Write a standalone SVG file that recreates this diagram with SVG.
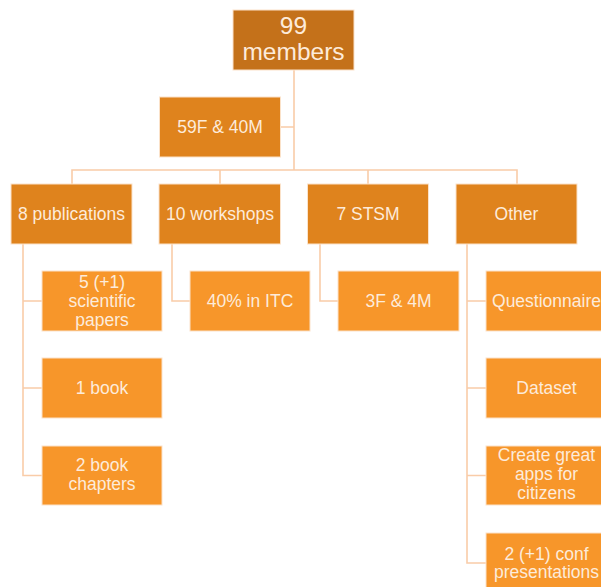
<svg xmlns="http://www.w3.org/2000/svg" width="601" height="587" viewBox="0 0 601 587">
<style>
rect{stroke:#FBE2C9;stroke-width:1}
.l0{fill:#C4711A}
.l1{fill:#DF831D}
.l2{fill:#F7962A}
text{font-family:"Liberation Sans",Arial,sans-serif;font-size:17.5px;fill:#FDEBDA;text-anchor:middle}
.big{font-size:24.5px}
#connectors path{fill:none;stroke:#F9CCA8;stroke-width:1.6}
</style>
<rect x="0" y="0" width="601" height="587" fill="#FFFFFF" style="stroke:none"/>
<g id="connectors">
<path d="M294 70V170M294 127H280.5"/>
<path d="M72 184V170H517V184M220 170V184M368 170V184"/>
<path d="M23 244V475.5H42M23 301H42M23 388H42"/>
<path d="M172 244V301H190"/>
<path d="M320 244V301H338"/>
<path d="M467 244V563H486M467 301H486M467 388H486M467 475.5H486"/>
</g>
<g id="n-members"><rect class="l0" x="233" y="10" width="121" height="60"/><text class="big" x="293.5" y="34">99</text><text class="big" x="293.5" y="60">members</text></g>
<g id="n-gender"><rect class="l1" x="159.5" y="97" width="121" height="60"/><text x="220" y="133">59F &amp; 40M</text></g>
<g id="n-publications"><rect class="l1" x="11" y="184" width="121" height="60"/><text x="71.5" y="220">8 publications</text></g>
<g id="n-workshops"><rect class="l1" x="159" y="184" width="121.5" height="60"/><text x="220" y="220">10 workshops</text></g>
<g id="n-stsm"><rect class="l1" x="307.5" y="184" width="121" height="60"/><text x="368" y="220">7 STSM</text></g>
<g id="n-other"><rect class="l1" x="456" y="184" width="121" height="60"/><text x="516.5" y="220">Other</text></g>
<g id="n-papers"><rect class="l2" x="42" y="271" width="120" height="60"/><text x="102" y="287.5">5 (+1)</text><text x="102" y="306.5">scientific</text><text x="102" y="325.5">papers</text></g>
<g id="n-book"><rect class="l2" x="42" y="358" width="120" height="60"/><text x="102" y="394">1 book</text></g>
<g id="n-chapters"><rect class="l2" x="42" y="446" width="120" height="59"/><text x="102" y="471">2 book</text><text x="102" y="490">chapters</text></g>
<g id="n-itc"><rect class="l2" x="190" y="271" width="120" height="60"/><text x="250" y="307">40% in ITC</text></g>
<g id="n-3f4m"><rect class="l2" x="338" y="271" width="121" height="60"/><text x="398.5" y="307">3F &amp; 4M</text></g>
<g id="n-questionnaire"><rect class="l2" x="486" y="271" width="121" height="60"/><text x="546.5" y="307">Questionnaire</text></g>
<g id="n-dataset"><rect class="l2" x="486" y="358" width="121" height="60"/><text x="546.5" y="394">Dataset</text></g>
<g id="n-apps"><rect class="l2" x="486" y="446" width="121" height="59"/><text x="546.5" y="461">Create great</text><text x="546.5" y="480">apps for</text><text x="546.5" y="499">citizens</text></g>
<g id="n-conf"><rect class="l2" x="486" y="533" width="121" height="60"/><text x="546.5" y="559.5">2 (+1) conf</text><text x="546.5" y="578">presentations</text></g>
</svg>
